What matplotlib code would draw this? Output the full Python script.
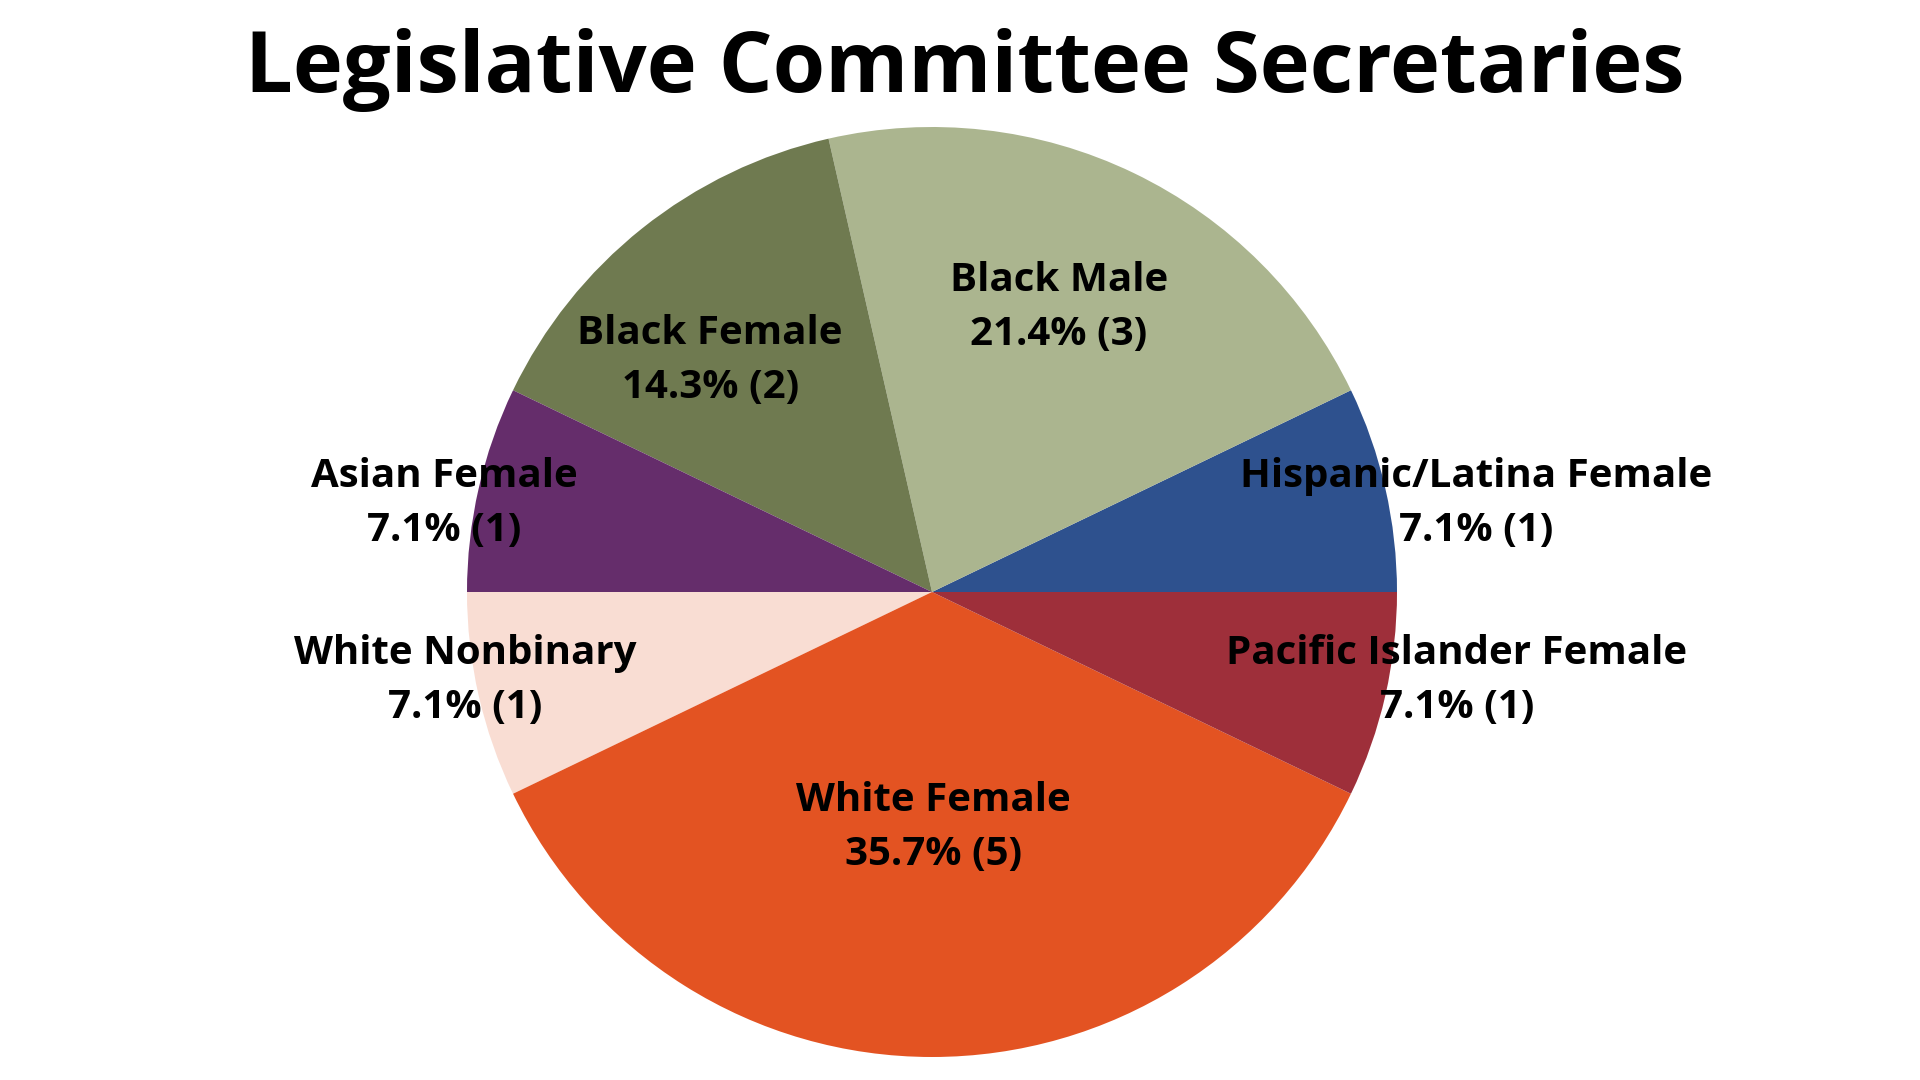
import matplotlib.pyplot as plt

plt.rcParams['font.family'] = ['Open Sans', 'DejaVu Sans']

# data
categories = ['Hispanic/Latina Female', 'Black Male', 'Black Female', 'Asian Female',
              'White Nonbinary', 'White Female', 'Pacific Islander Female']
counts = [1, 3, 2, 1, 1, 5, 1]
colors = ['#2E518E', '#ABB58F', '#6F7A50', '#652D6B', '#F9DDD3', '#E35322', '#9E2F3A']

# label layout (pie radius = 1)
label_pos = [(1.17, 0.19), (0.273, 0.612), (-0.477, 0.498), (-1.049, 0.19),
             (-1.004, -0.19), (0.004, -0.506), (1.129, -0.19)]

W, H = 1920, 1080
cx, cy, r = 932, 592, 465

fig = plt.figure(figsize=(19.2, 10.8), dpi=100)
ax = fig.add_axes([0, 0, 1, 1])
wedges, _ = ax.pie(counts, colors=colors, startangle=0, counterclock=True,
                   wedgeprops=dict(linewidth=0), radius=1)
ax.set_xlim(-cx / r, (W - cx) / r)
ax.set_ylim(-(H - cy) / r, cy / r)
ax.set_aspect('equal')
ax.axis('off')

total = sum(counts)
for name, n, (x, y) in zip(categories, counts, label_pos):
    ax.text(x, y, f'{name}\n{n / total * 100:.1f}% ({n})', ha='center', va='center',
            fontsize=29, fontweight='bold', linespacing=1.5, color='black')

fig.text(965 / W, 1 - 92 / H, 'Legislative Committee Secretaries', ha='center',
         va='baseline', fontsize=61, fontweight='bold', color='black')

fig.savefig('out.png', dpi=100, facecolor='white')
